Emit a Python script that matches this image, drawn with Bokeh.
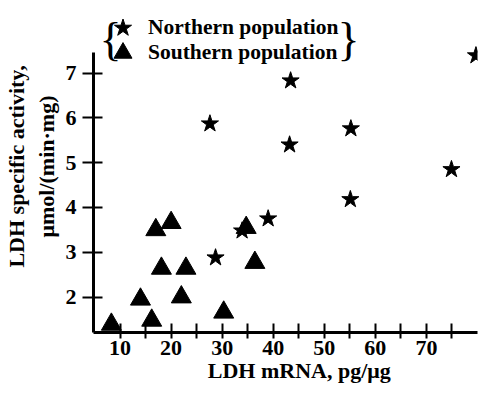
from bokeh.plotting import figure
from bokeh.models import FixedTicker, Legend, LegendItem, Label
from bokeh.embed import file_html
from bokeh.resources import INLINE

# Data
north_x = [27.6, 43.4, 43.2, 55.2, 55.1, 74.9, 79.7, 39.0, 33.9, 28.7]
north_y = [5.87, 6.83, 5.40, 5.76, 4.18, 4.85, 7.39, 3.75, 3.48, 2.88]
south_x = [8.3, 14.0, 16.2, 17.0, 20.0, 18.1, 22.9, 22.0, 30.3, 34.7, 36.4]
south_y = [1.39, 1.95, 1.48, 3.50, 3.66, 2.64, 2.64, 2.00, 1.66, 3.55, 2.77]
x_major = [10, 20, 30, 40, 50, 60, 70]
x_minor = [15, 25, 35, 45, 55, 65, 75]
y_major = [2, 3, 4, 5, 6, 7]
legend_labels = ["Northern population", "Southern population"]

FONT = "Liberation Serif"

p = figure(width=480, height=385, x_range=(4.8, 80), y_range=(1.21, 8.62),
           min_border_left=86, min_border_right=3, min_border_top=0,
           min_border_bottom=53, output_backend="svg", toolbar_location=None)
p.outline_line_color = None
p.grid.visible = False
p.background_fill_color = "white"
p.border_fill_color = "white"

r_n = p.scatter(north_x, north_y, marker="star", size=18, color="black")
r_s = p.scatter(south_x, south_y, marker="triangle", size=20, color="black")

for ax in (p.xaxis[0], p.yaxis[0]):
    ax.axis_line_width = 3
    ax.axis_line_color = "black"
    ax.major_tick_line_width = 2
    ax.minor_tick_line_width = 2
    ax.major_tick_line_color = "black"
    ax.minor_tick_line_color = "black"
    ax.major_label_text_font = FONT
    ax.major_label_text_font_size = "22px"
    ax.major_label_text_font_style = "bold"
    ax.major_label_text_color = "black"
    ax.axis_label_text_font = FONT
    ax.axis_label_text_font_size = "22px"
    ax.axis_label_text_font_style = "bold"
    ax.axis_label_text_color = "black"

xa = p.xaxis[0]
xa.ticker = FixedTicker(ticks=x_major, minor_ticks=x_minor)
xa.major_tick_in = 9
xa.major_tick_out = 6
xa.minor_tick_in = 9
xa.minor_tick_out = 6
xa.major_label_standoff = 2
xa.axis_label = "\u00a0\u00a0\u00a0\u00a0\u00a0LDH mRNA, pg/\u03bcg"
xa.axis_label_standoff = 0

ya = p.yaxis[0]
ya.ticker = FixedTicker(ticks=y_major, minor_ticks=[])
ya.bounds = (1.21, 7.46)
ya.major_tick_in = 9
ya.major_tick_out = 11
ya.minor_tick_in = 0
ya.minor_tick_out = 0
ya.major_label_standoff = 6
ya.axis_label = "LDH specific activity,\n\u03bcmol/(min\u00b7mg)"
ya.axis_label_standoff = 4


def make_legend(label, renderer, top_offset):
    return Legend(items=[LegendItem(label=label, renderers=[renderer])],
                  location=(7, top_offset), padding=0, margin=0, spacing=0,
                  glyph_width=45, glyph_height=45, label_standoff=3,
                  label_text_font=FONT, label_text_font_size="21.5px",
                  label_text_font_style="bold",
                  label_text_color="black",
                  border_line_color=None, background_fill_alpha=0)


p.add_layout(make_legend(legend_labels[0], r_n, 282), "center")
p.add_layout(make_legend(legend_labels[1], r_s, 257), "center")

# braces around the legend
p.add_layout(Label(x=17, y=293, x_units="screen", y_units="screen", text="{",
                   text_align="center", text_baseline="middle",
                   text_font=FONT, text_font_size="46px", text_color="black"))
p.add_layout(Label(x=255, y=293, x_units="screen", y_units="screen", text="}",
                   text_align="center", text_baseline="middle",
                   text_font=FONT, text_font_size="46px", text_color="black"))

open("out.html", "w").write(file_html(p, INLINE))
